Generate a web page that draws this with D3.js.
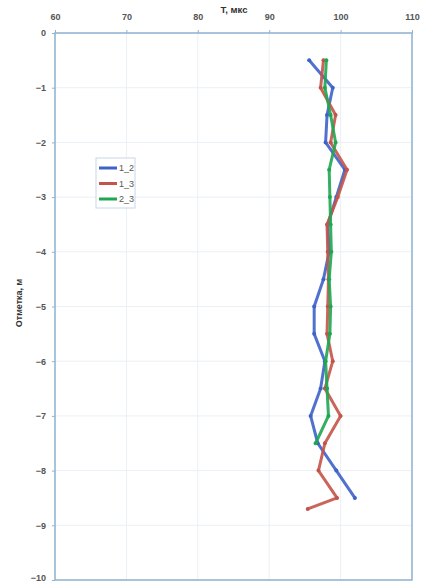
<!DOCTYPE html>
<html>
<head>
<meta charset="utf-8">
<script src="https://cdn.jsdelivr.net/npm/d3@7/dist/d3.min.js"></script>
<style>
  html, body { margin: 0; padding: 0; background: #fff; }
  svg { display: block; }
</style>
</head>
<body>
<svg id="chart" width="425" height="583"></svg>
<script>
// Depth (m) and travel time (µs) for each borehole pair
const depths12 = [-0.5, -1, -1.5, -2, -2.5, -3, -3.5, -4, -4.5, -5, -5.5, -6, -6.5, -7, -7.5, -8, -8.5];
const times12  = [95.6, 98.9, 98.1, 97.9, 100.6, 99.4, 98.2, 98.4, 97.6, 96.3, 96.3, 97.8, 97.2, 95.8, 96.8, 99.4, 102.0];

const depths13 = [-0.5, -1, -1.5, -2, -2.5, -3, -3.5, -4, -4.5, -5, -5.5, -6, -6.5, -7, -7.5, -8, -8.5, -8.7];
const times13  = [97.6, 97.2, 99.3, 98.6, 100.9, 99.6, 98.1, 98.2, 98.3, 98.2, 98.1, 98.9, 97.8, 100.0, 97.8, 96.9, 99.5, 95.4];

const depths23 = [-0.5, -1, -1.5, -2, -2.5, -3, -3.5, -4, -4.5, -5, -5.5, -6, -6.5, -7, -7.5];
const times23  = [98.0, 97.8, 98.6, 99.3, 98.4, 98.5, 98.6, 98.7, 98.4, 98.6, 98.5, 97.9, 98.1, 98.3, 96.5];

const seriesNames  = ["1_2", "1_3", "2_3"];
const seriesColors = ["#3d63c9", "#c4544a", "#1fa650"];

const xTicks = [60, 70, 80, 90, 100, 110];
const yTicks = [0, -1, -2, -3, -4, -5, -6, -7, -8, -9, -10];

const xTitle = "T, мкс";
const yTitle = "Отметка, м";

const series = [
  { name: seriesNames[0], color: seriesColors[0], pts: depths12.map((d, i) => ({ d, t: times12[i] })) },
  { name: seriesNames[1], color: seriesColors[1], pts: depths13.map((d, i) => ({ d, t: times13[i] })) },
  { name: seriesNames[2], color: seriesColors[2], pts: depths23.map((d, i) => ({ d, t: times23[i] })) }
];

const svg = d3.select("#chart");
const plotL = 55, plotR = 412, plotT = 33, plotB = 580;

const x = d3.scaleLinear().domain([60, 110]).range([plotL, plotR]);
const y = d3.scaleLinear().domain([0, -10]).range([plotT, plotB]);

const font = "Arial, 'Liberation Sans', sans-serif";
const frameColor = "#8fb2d2";
const gridColor = "#e9f0f6";

// light grid
svg.append("g").selectAll("line").data(xTicks).join("line")
  .attr("x1", d => x(d)).attr("x2", d => x(d))
  .attr("y1", plotT).attr("y2", plotB)
  .attr("stroke", gridColor).attr("stroke-width", 1);
svg.append("g").selectAll("line").data(yTicks).join("line")
  .attr("x1", plotL).attr("x2", plotR)
  .attr("y1", d => y(d)).attr("y2", d => y(d))
  .attr("stroke", gridColor).attr("stroke-width", 1);

// plot frame
svg.append("rect")
  .attr("x", plotL).attr("y", plotT)
  .attr("width", plotR - plotL).attr("height", plotB - plotT)
  .attr("fill", "none").attr("stroke", frameColor).attr("stroke-width", 1.5);

// top axis
const xAxis = svg.append("g")
  .attr("transform", `translate(0,${plotT})`)
  .call(d3.axisTop(x).tickValues(xTicks).tickSize(3).tickPadding(10).tickFormat(d3.format("d")));
xAxis.select(".domain").remove();
xAxis.selectAll("line").attr("stroke", frameColor);
xAxis.selectAll("text").attr("font-family", font).attr("font-size", 9)
  .attr("font-weight", 600).attr("fill", "#555");

// left axis
const yAxis = svg.append("g")
  .attr("transform", `translate(${plotL},0)`)
  .call(d3.axisLeft(y).tickValues(yTicks).tickSize(3).tickPadding(6).tickFormat(d3.format("d")));
yAxis.select(".domain").remove();
yAxis.selectAll("line").attr("stroke", frameColor);
yAxis.selectAll("text").attr("font-family", font).attr("font-size", 9)
  .attr("font-weight", 600).attr("fill", "#555");
// keep the bottom label inside the page
yAxis.selectAll("text").filter(d => d === -10).attr("dy", "0.05em");

// axis titles
svg.append("text")
  .attr("x", 234).attr("y", 13)
  .attr("text-anchor", "middle")
  .attr("font-family", font).attr("font-size", 9.5).attr("font-weight", "bold").attr("fill", "#333")
  .text(xTitle);
svg.append("text")
  .attr("transform", "translate(22,303) rotate(-90)")
  .attr("text-anchor", "middle")
  .attr("font-family", font).attr("font-size", 9).attr("font-weight", "bold").attr("fill", "#333")
  .text(yTitle);

// series lines
const line = d3.line().x(p => x(p.t)).y(p => y(p.d));
series.forEach(s => {
  svg.append("path")
    .datum(s.pts)
    .attr("d", line)
    .attr("fill", "none")
    .attr("stroke", s.color)
    .attr("stroke-width", 3)
    .attr("stroke-linejoin", "round")
    .attr("stroke-linecap", "round")
    .attr("opacity", 0.9);
  svg.append("g").selectAll("circle").data(s.pts).join("circle")
    .attr("cx", p => x(p.t)).attr("cy", p => y(p.d)).attr("r", 2)
    .attr("fill", s.color);
});

// legend
const lg = svg.append("g").attr("transform", "translate(96,158)");
lg.append("rect")
  .attr("width", 39).attr("height", 50)
  .attr("fill", "#fff").attr("stroke", "#c8d6e4").attr("stroke-width", 1);
series.forEach((s, i) => {
  const yy = 10 + i * 15.5;
  lg.append("line")
    .attr("x1", 3).attr("x2", 21).attr("y1", yy).attr("y2", yy)
    .attr("stroke", s.color).attr("stroke-width", 3);
  lg.append("text")
    .attr("x", 23).attr("y", yy + 3)
    .attr("font-family", font).attr("font-size", 9).attr("fill", "#555")
    .text(s.name);
});
</script>
</body>
</html>
